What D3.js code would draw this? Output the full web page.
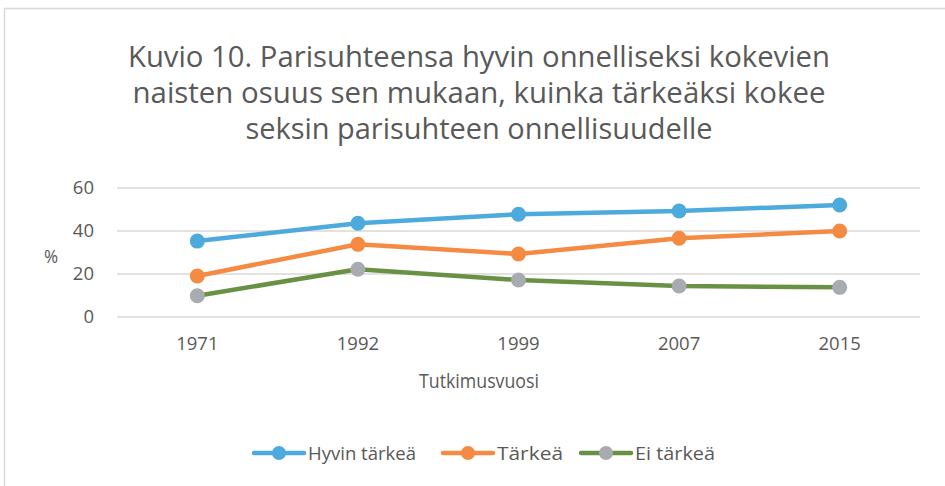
<!DOCTYPE html>
<html><head><meta charset="utf-8">
<script src="https://cdn.jsdelivr.net/npm/d3@7"></script>
<style>body{margin:0;background:#fff}svg{display:block}text{font-family:"Open Sans",sans-serif}</style>
</head><body><svg id="c" width="945" height="486"></svg>
<script>
const titleLines = ["Kuvio 10. Parisuhteensa hyvin onnelliseksi kokevien","naisten osuus sen mukaan, kuinka tärkeäksi kokee","seksin parisuhteen onnellisuudelle"];
const years = ["1971","1992","1999","2007","2015"];
const seriesNames = ["Hyvin tärkeä","Tärkeä","Ei tärkeä"];
const hyvinTarkea = [35.3,43.6,47.8,49.3,52.1];
const tarkea = [19.1,33.8,29.3,36.6,40.0];
const eiTarkea = [9.9,22.2,17.2,14.4,13.8];
const yTicks = [0,20,40,60];
const yLabel = "%";
const xLabel = "Tutkimusvuosi";

const lineColors = ["#4DAADD","#F58B42","#6A9044"];
const markerColors = ["#4DAADD","#F58B42","#A8ABAF"];
const seriesVals = [hyvinTarkea,tarkea,eiTarkea];
const textColor = "#595959";

function squeeze(sel, ratio){
  sel.each(function(){
    const w = this.getComputedTextLength();
    d3.select(this).attr("textLength",(w*ratio).toFixed(1)).attr("lengthAdjust","spacingAndGlyphs");
  });
}
function fitTo(sel, width){
  sel.attr("textLength",width).attr("lengthAdjust","spacingAndGlyphs");
}

const svg = d3.select("#c");
svg.append("rect").attr("x",4.5).attr("y",8.5).attr("width",960).attr("height",500)
  .attr("fill","none").attr("stroke","#D9D9D9").attr("stroke-width",1.5);

const titleY=[67,103,139], titleW=[702,693,467];
titleLines.forEach((t,i)=>{
  const el = svg.append("text").attr("x",479).attr("y",titleY[i]).attr("text-anchor","middle")
    .attr("fill",textColor).style("font-size","28.5px").text(t);
  fitTo(el,titleW[i]);
});

const x = d3.scaleBand().domain(years).range([117,920]);
const y = d3.scaleLinear().domain([0,60]).range([317,188]);

svg.append("g").selectAll("line").data(yTicks).join("line")
  .attr("x1",117).attr("x2",920).attr("y1",d=>y(d)).attr("y2",d=>y(d))
  .attr("stroke","#D9D9D9").attr("stroke-width",1.3);

const yAxis = svg.append("g").attr("transform","translate(94,0)")
  .call(d3.axisLeft(y).tickValues(yTicks).tickSize(0).tickPadding(0));
yAxis.select(".domain").remove();
yAxis.selectAll("text").attr("fill",textColor).style("font-size","18.5px").style("font-family","'Open Sans',sans-serif");

const xAxis = svg.append("g").attr("transform","translate(0,337)")
  .call(d3.axisBottom(x).tickSize(0).tickPadding(0));
xAxis.select(".domain").remove();
xAxis.selectAll("text").attr("fill",textColor).style("font-size","18.5px").style("font-family","'Open Sans',sans-serif");

const yl = svg.append("text").attr("x",51).attr("y",263).attr("text-anchor","middle").attr("fill",textColor)
  .style("font-size","19px").text(yLabel);
squeeze(yl,0.9);
const xl = svg.append("text").attr("x",479).attr("y",388).attr("text-anchor","middle").attr("fill",textColor)
  .style("font-size","19.5px").text(xLabel);
fitTo(xl,120);

const line = d3.line().x((d,i)=>x(years[i])+x.bandwidth()/2).y(d=>y(d));
seriesVals.forEach((vals,s)=>{
  svg.append("path").datum(vals).attr("d",line).attr("fill","none")
    .attr("stroke",lineColors[s]).attr("stroke-width",4.5).attr("stroke-linejoin","round");
});
seriesVals.forEach((vals,s)=>{
  svg.append("g").selectAll("circle").data(vals).join("circle")
    .attr("cx",(d,i)=>x(years[i])+x.bandwidth()/2).attr("cy",d=>y(d)).attr("r",7.5)
    .attr("fill",markerColors[s]);
});

const legX=[254,443,581], legW=[108,66,80];
seriesNames.forEach((n,s)=>{
  const g = svg.append("g").attr("transform",`translate(${legX[s]},453)`);
  g.append("line").attr("x1",0).attr("x2",50).attr("stroke",lineColors[s]).attr("stroke-width",4.5).attr("stroke-linecap","round");
  g.append("circle").attr("cx",25).attr("r",7).attr("fill",markerColors[s]);
  const t = g.append("text").attr("x",54).attr("y",6.5).attr("fill",textColor).style("font-size","18px").text(n);
  fitTo(t,legW[s]);
});
</script></body></html>
